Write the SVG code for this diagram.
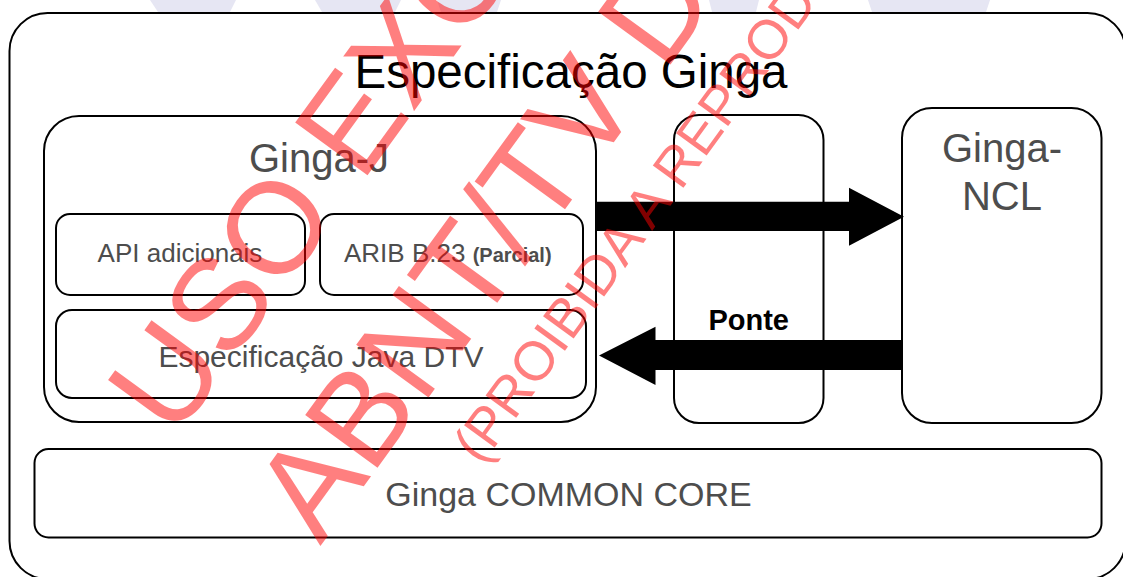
<svg xmlns="http://www.w3.org/2000/svg" width="1123" height="577" viewBox="0 0 1123 577">
<style>
.box{fill:none;stroke:#000;stroke-width:2}
.lbl{font-family:"Liberation Sans",Arial,sans-serif;fill:#4d4d4d;text-anchor:middle}
.lbl-start{font-family:"Liberation Sans",Arial,sans-serif;fill:#4d4d4d;text-anchor:start}
.title{font-family:"Liberation Sans",Arial,sans-serif;fill:#000;text-anchor:middle}
.wm{font-family:"Liberation Sans",Arial,sans-serif;fill:#ff0000;fill-opacity:0.5;text-anchor:middle}
.arrow{fill:#000}
</style>
<rect width="1123" height="577" fill="#fff"/>
<g id="top-band" fill="#e6e6f3">
<polygon points="150,0 236,0 230,12 158,12"/>
<polygon points="315,0 401,0 395,12 322,12"/>
<polygon points="437,0 501,0 497,12 441,12"/>
<polygon points="709,0 759,0 756,12 712,12"/>
<polygon points="868,0 990,0 986,12 872,12"/>
</g>
<g id="especificacao-ginga">
<rect class="box" x="9.5" y="13" width="1116" height="566" rx="38"/>
<text class="title" x="571" y="88" font-size="47.5">Especificação Ginga</text>
</g>
<g id="ginga-j">
<rect class="box" x="44" y="116" width="552" height="306" rx="35"/>
<text class="lbl" x="319" y="172" font-size="40">Ginga-J</text>
</g>
<g id="api-adicionais">
<rect class="box" x="56" y="214" width="249" height="81" rx="14"/>
<text class="lbl" x="180" y="262" font-size="26">API adicionais</text>
</g>
<g id="arib">
<rect class="box" x="320" y="214" width="263" height="81" rx="14"/>
<text class="lbl-start" x="344" y="262" font-size="26">ARIB B.23 <tspan font-size="20" font-weight="bold">(Parcial)</tspan></text>
</g>
<g id="java-dtv">
<rect class="box" x="56" y="310" width="530" height="88" rx="16"/>
<text class="lbl" x="321" y="367" font-size="30">Especificação Java DTV</text>
</g>
<g id="ponte">
<rect class="box" x="674" y="115" width="149.5" height="308" rx="25"/>
</g>
<g id="ginga-ncl">
<rect class="box" x="902" y="108" width="199.5" height="315" rx="30"/>
<text class="lbl" x="1002" y="162" font-size="40">Ginga-</text>
<text class="lbl" x="1002" y="210" font-size="40">NCL</text>
</g>
<g id="common-core">
<rect class="box" x="34.5" y="449" width="1067" height="88.5" rx="14"/>
<text class="lbl" x="568.5" y="506" font-size="34">Ginga COMMON CORE</text>
</g>
<g id="connectors">
<polygon class="arrow" points="596,201.7 849,201.7 849,187.7 904,216.7 849,245.7 849,231 596,231"/>
<polygon class="arrow" points="902,340 655.5,340 655.5,326.7 599,355.5 655.5,385 655.5,370 902,370"/>
<text x="748.7" y="330" font-size="29" font-weight="bold" font-family="'Liberation Sans',Arial,sans-serif" text-anchor="middle" fill="#000">Ponte</text>
</g>
<g id="watermark" transform="translate(638,109) rotate(-54)">
<text class="wm" x="-10" y="-180" font-size="130">USO EXCLUSIVO</text>
<text class="wm" x="0" y="0" font-size="130">ABNT/TV DIGITAL</text>
<text class="wm" x="-5" y="83" font-size="55">(PROIBIDA A REPRODUÇÃO)</text>
</g>
</svg>
